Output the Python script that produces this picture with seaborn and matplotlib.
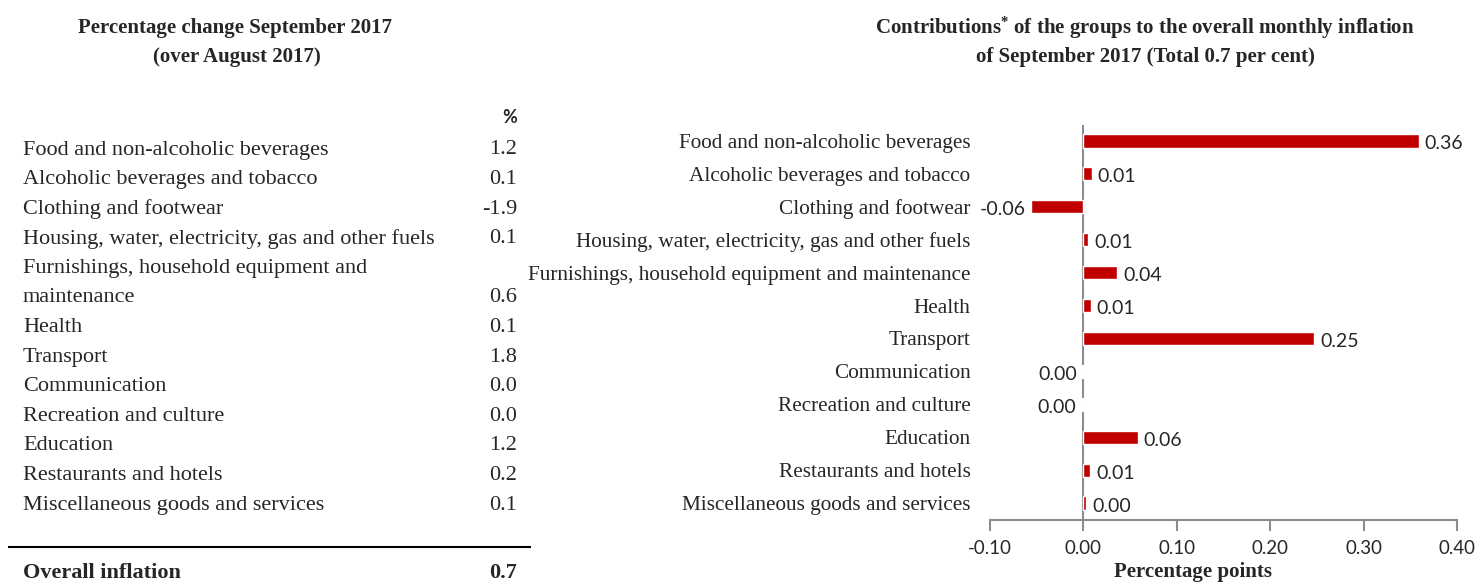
import matplotlib
matplotlib.use("Agg")
import pandas as pd
import seaborn as sns
import matplotlib.pyplot as plt

categories = [
    "Food and non-alcoholic beverages",
    "Alcoholic beverages and tobacco",
    "Clothing and footwear",
    "Housing, water, electricity, gas and other fuels",
    "Furnishings, household equipment and maintenance",
    "Health",
    "Transport",
    "Communication",
    "Recreation and culture",
    "Education",
    "Restaurants and hotels",
    "Miscellaneous goods and services",
]
# table on the left wraps this one label
table_labels = list(categories)
table_labels[4] = "Furnishings, household equipment and\nmaintenance"

pct_change = [1.2, 0.1, -1.9, 0.1, 0.6, 0.1, 1.8, 0.0, 0.0, 1.2, 0.2, 0.1]
overall = 0.7

contributions = [0.359, 0.009, -0.056, 0.005, 0.036, 0.008, 0.247,
                 -0.001, -0.002, 0.058, 0.007, 0.003]
x_ticks = [-0.10, 0.00, 0.10, 0.20, 0.30, 0.40]

sns.set_theme(style="white")
plt.rcParams["font.family"] = ["Liberation Serif", "DejaVu Serif"]
plt.rcParams["mathtext.default"] = "regular"

W, H = 1476, 582
fig = plt.figure(figsize=(W / 100, H / 100), dpi=100)

# ---- left: table of percentage changes ----
line_h = 29.6
top = 150  # pixel row of the first category
tab = fig.add_axes([0, 0, 0.4, 1])
tab.set_axis_off()
tab.set_xlim(0, 0.4 * W)
tab.set_ylim((H - top) / line_h, -top / line_h)

x_lab, x_val = 23, 517
tab.text(x_val, -1.1, "%", ha="right", va="center", fontsize=13,
         fontweight="bold", family="Lato")
row = 0
for lab, val in zip(table_labels, pct_change):
    parts = lab.split("\n")
    for p in parts:
        tab.text(x_lab, row, p, ha="left", va="center", fontsize=16)
        row += 1
    tab.text(x_val, row - 1, f"{val:.1f}", ha="right", va="center", fontsize=16)

sep = (547 - top) / line_h
tab.plot([8, 531], [sep, sep], color="black", lw=1.5, solid_capstyle="butt")
tab.text(x_lab, 14.3, "Overall inflation", ha="left", va="center",
         fontsize=16, fontweight="bold")
tab.text(x_val, 14.3, f"{overall:.1f}", ha="right", va="center",
         fontsize=16, fontweight="bold")

fig.text(235 / W, 1 - 28 / H, "Percentage change September 2017",
         ha="center", va="center", fontsize=15, fontweight="bold")
fig.text(237 / W, 1 - 57 / H, "(over August 2017)",
         ha="center", va="center", fontsize=15, fontweight="bold")

# ---- right: contributions bar chart ----
ax = fig.add_axes([990 / W, 1 - 519.5 / H, 467 / W, 395 / H])
df = pd.DataFrame({"group": categories, "contribution": contributions})
sns.barplot(data=df, x="contribution", y="group", orient="h",
            color="#C00000", saturation=1, width=0.4, ax=ax)

grey = "#8C8C8C"
ax.set_xlim(-0.1, 0.4)
ax.set_xticks(x_ticks)
ax.set_xticklabels([f"{t:.2f}" for t in x_ticks], family="Lato", fontsize=13.5)
ax.axvline(0, color=grey, lw=1.5, zorder=0)
for s in ["top", "right", "left"]:
    ax.spines[s].set_visible(False)
ax.spines["bottom"].set_color(grey)
ax.spines["bottom"].set_linewidth(1.5)
ax.tick_params(axis="x", bottom=True, direction="out", length=8, width=1.5,
               color=grey, pad=7)
ax.tick_params(axis="y", left=False, length=0, pad=14, labelsize=15.3)
ax.set_ylabel("")

for i, v in enumerate(contributions):
    txt = f"{abs(v):.2f}" if round(v, 2) == 0 else f"{v:.2f}"
    if v >= 0:
        ax.annotate(txt, (v, i), xytext=(6, -3), textcoords="offset pixels",
                    ha="left", va="center", family="Lato", fontsize=14)
    else:
        ax.annotate(txt, (v, i), xytext=(-5, -3), textcoords="offset pixels",
                    ha="right", va="center", family="Lato", fontsize=14)

ax.set_xlabel("Percentage points", fontsize=15, fontweight="bold")
ax.xaxis.set_label_coords((1193 - 990) / 467, (519.5 - 562) / 395)

fig.text(1145 / W, 1 - 28 / H,
         "Contributions$^{*}$ of the groups to the overall monthly inflation",
         ha="center", va="center", fontsize=15, fontweight="bold")
fig.text(1145 / W, 1 - 57 / H, "of September 2017 (Total 0.7 per cent)",
         ha="center", va="center", fontsize=15, fontweight="bold")

fig.savefig("out.png", dpi=100)
